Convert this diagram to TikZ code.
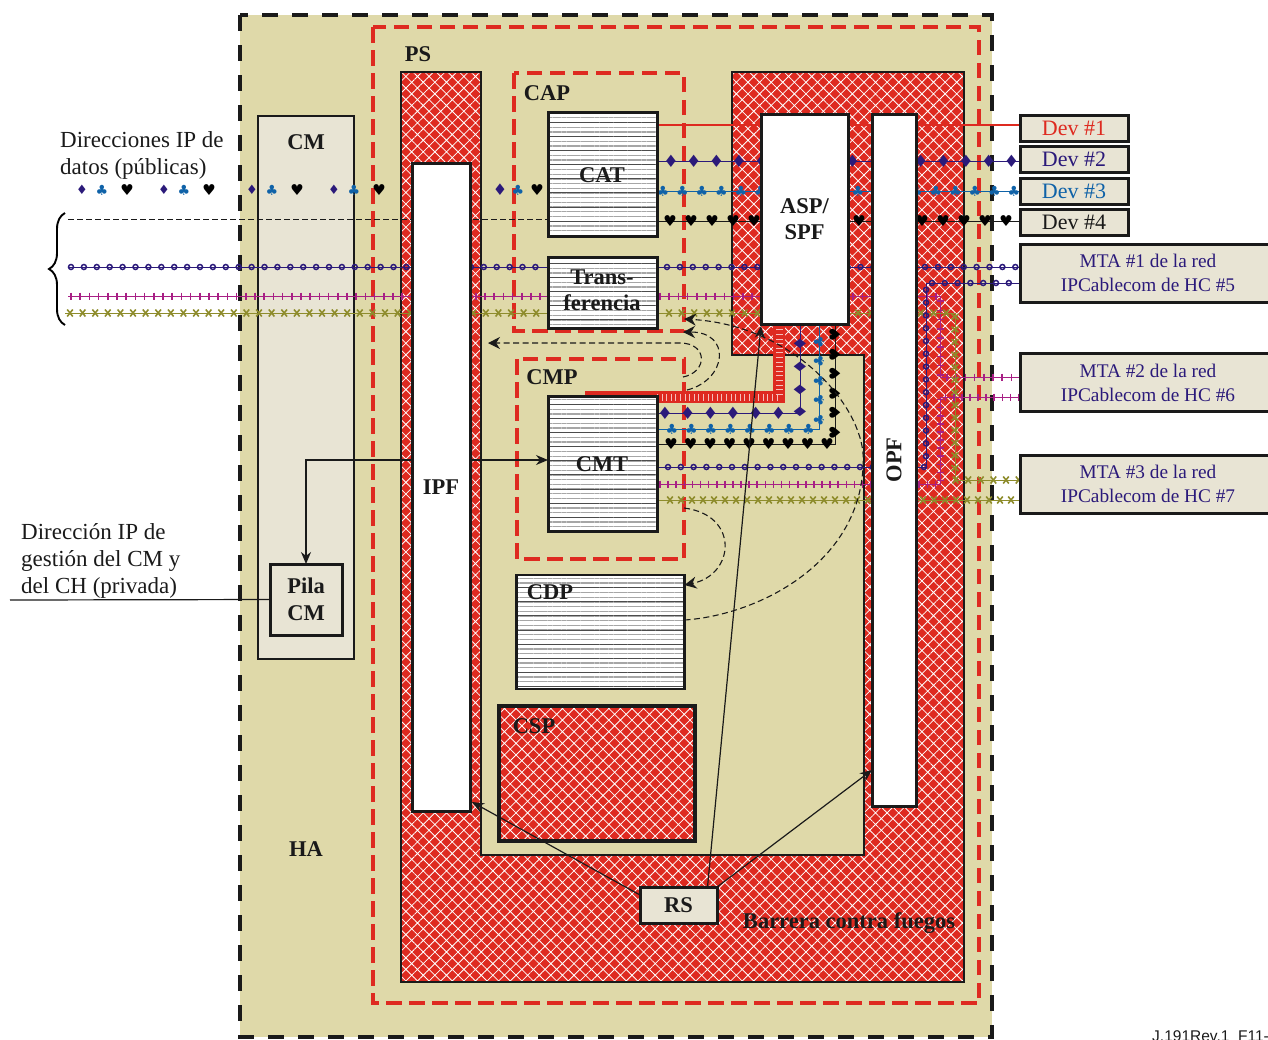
\documentclass[tikz,border=0pt]{standalone}
\usepackage{fontspec}
\setmainfont{Liberation Serif}
\newfontfamily\suitfont{DejaVu Sans}
\newfontfamily\tagfont{Liberation Sans}
\usetikzlibrary{arrows.meta,calc,patterns.meta,decorations.markings,decorations.pathreplacing}
\definecolor{hakhaki}{HTML}{DFD9A9}
\definecolor{hacream}{HTML}{E8E4D4}
\definecolor{hared}{HTML}{DE2A20}
\definecolor{hanavy}{HTML}{2B1A7A}
\definecolor{hablue}{HTML}{0F62A8}
\definecolor{hapink}{HTML}{A81F85}
\definecolor{haolive}{HTML}{8E8C2C}
\definecolor{hadark}{HTML}{1A1A1A}
\tikzset{
  hatchfill/.style  = {preaction={fill=hared}, pattern={Hatch[angle=45,distance=8.2pt,line width=.8pt]}, pattern color=white},
  stripes/.style    = {preaction={fill=white},
                       preaction={pattern={Lines[angle=0,distance=4.7pt,line width=1.3pt]}, pattern color=black!35},
                       pattern={Lines[angle=0,distance=14.1pt,line width=1pt]}, pattern color=black!70},
  lbl/.style        = {font=\fontsize{22.5}{26.5}\selectfont\bfseries, text=hadark, inner sep=0pt, align=center},
  txt/.style        = {font=\fontsize{23}{27}\selectfont, text=hadark, inner sep=0pt, align=left, anchor=west},
  blockbox/.style 2 args = {rectangle, draw=hadark, line width=3pt, minimum width=#1pt, minimum height=#2pt,
                       inner sep=0pt, outer sep=0pt, align=center, font=\fontsize{22.5}{26.5}\selectfont\bfseries, text=hadark},
  devbox/.style     = {blockbox={108}{26}, fill=hacream, font=\fontsize{22}{26}\selectfont},
  mtabox/.style     = {blockbox={256}{58}, fill=hacream, text=hanavy, font=\fontsize{19.3}{24}\selectfont},
  fwdash/.style     = {draw=hared, line width=4pt, dash pattern=on 15.5pt off 7.5pt},
  flow/.style       = {draw=hadark, line width=1.1pt, dash pattern=on 6pt off 3.5pt, -{Stealth[length=12pt,width=12pt]}},
  sig/.style        = {draw=hadark, line width=1.2pt, -{Stealth[length=12pt,width=10pt]}},
  mklink/.style n args = {3}{postaction={decorate,decoration={markings,
                       mark=between positions #1pt and 1 step #2pt with {#3}}}},
  dialink/.style 2 args  = {draw=hanavy, line width=1pt, mklink={#1}{#2}{\node[suit,text=hanavy,transform shape,font=\suitfont\fontsize{17}{17}\selectfont] {♦};}},
  clublink/.style 2 args = {draw=hablue, line width=1pt, mklink={#1}{#2}{\node[suit,text=hablue,transform shape,font=\suitfont\fontsize{14}{14}\selectfont] {♣};}},
  heartlink/.style 2 args= {draw=hadark, line width=1pt, mklink={#1}{#2}{\node[suit,text=black,transform shape,font=\suitfont\fontsize{15}{15}\selectfont] {♥};}},
  circlink/.style 2 args = {draw=hanavy, line width=1pt, mklink={#1}{#2}{\draw[hanavy,line width=1.5pt] (0,0) circle (2.5pt);}},
  ticklink/.style 2 args = {draw=hapink, line width=1pt, mklink={#1}{#2}{\draw[hapink,line width=1.6pt] (0,-3.5) -- (0,3.5);}},
  crosslink/.style 2 args= {draw=haolive, line width=.8pt, mklink={#1}{#2}{\draw[haolive,line width=1.6pt] (-2.8,-3.5) -- (2.8,3.5) (-2.8,3.5) -- (2.8,-3.5);}},
  suit/.style       = {font=\suitfont\fontsize{13}{13}\selectfont, inner sep=0pt},
}
\begin{document}
\begin{tikzpicture}[x=1pt,y=-1pt]
\useasboundingbox (0,0) rectangle (1268,1039);

% host area and security zones
\draw[fill=hakhaki,draw=hadark,line width=4.5pt,dash pattern=on 16pt off 14pt] (240,15) rectangle (992,1037);
\node[blockbox={96}{543},fill=hacream,line width=2.5pt] (cm) at (306,387.5) {};
\draw[fwdash] (373,27) rectangle (979,1003);
\draw[hatchfill,draw=hadark,line width=2.6pt]
  (401,72) -- (481,72) -- (481,855) -- (864,855) -- (864,355) -- (732,355) -- (732,72)
  -- (964,72) -- (964,982) -- (401,982) -- cycle;
\draw[fwdash] (514,73) rectangle (684,331);
\draw[fwdash] (517,359) rectangle (684,559);

% rows and columns of the flows
\coordinate (rowred)   at (0,125);
\coordinate (rowdia)   at (0,161);
\coordinate (rowclub)  at (0,191);
\coordinate (rowdash)  at (0,219);
\coordinate (rowheart) at (0,221);
\coordinate (rowcirc)  at (0,267);
\coordinate (rowplus)  at (0,296);
\coordinate (rowx)     at (0,313);
\coordinate (rowciri)  at (0,283);
\coordinate (rowplua)  at (0,377);
\coordinate (rowplub)  at (0,397);
\coordinate (rowxa)    at (0,480);
\coordinate (rowsig)   at (0,460);
\coordinate (tmtdia)   at (0,413.5);
\coordinate (tmtclub)  at (0,429);
\coordinate (tmtheart) at (0,444);
\coordinate (tmtcirc)  at (0,467);
\coordinate (tmtplus)  at (0,484);
\coordinate (tmtx)     at (0,500);
\coordinate (colred)   at (779,0);
\coordinate (coldia)   at (800,0);
\coordinate (colclub)  at (819,0);
\coordinate (colheart) at (835,0);
\coordinate (colcirc)  at (926,0);
\coordinate (colplus)  at (940,0);
\coordinate (colx)     at (955,0);
\coordinate (leftcirc)  at (68,267);
\coordinate (leftplus)  at (68,296);
\coordinate (leftx)     at (65,313);
\coordinate (leftdash)  at (68,219);
\coordinate (busstart)  at (585,397);
\coordinate (mgmtstart) at (10,600);

% blocks, invisible first so that flows can name them
\path
  node[blockbox={109}{124}]  (cat)   at (602.5,174) {}
  node[blockbox={109}{71}]   (trans) at (602.5,292.5) {}
  node[blockbox={109}{135}]  (cmt)   at (602.5,463.5) {}
  node[blockbox={87}{210}]   (asp)   at (804.5,219) {}
  node[blockbox={44}{692}]   (opf)   at (894,460) {}
  node[blockbox={58}{648}]   (ipf)   at (441,487) {}
  node[blockbox={72}{71}]    (pila)  at (306,599.5) {}
  node[devbox] (dev1) at (1074,128) {}
  node[devbox] (dev2) at (1074,159) {}
  node[devbox] (dev3) at (1074,191.5) {}
  node[devbox] (dev4) at (1074,222.5) {}
  node[mtabox] (mta1) at (1148,273) {}
  node[mtabox] (mta2) at (1148,382.5) {}
  node[mtabox] (mta3) at (1148,484) {};

% public data flows
\draw[draw=hared,line width=1.2pt] (cat.east |- rowred) -- (dev1.west |- rowred);
\draw[dialink={14}{22.7}] (cat.east |- rowdia) -- (dev2.west |- rowdia);
\draw[clublink={6}{19.5}] (cat.east |- rowclub) -- (dev3.west |- rowclub);
\draw[heartlink={13}{21}] (cat.east |- rowheart) -- (dev4.west |- rowheart);
\draw[hadark,line width=1pt,dash pattern=on 6pt off 3pt] (leftdash) -- (cat.west |- rowdash);
\draw[circlink={3}{12.9}] (leftcirc) -- (trans.west |- rowcirc);
\draw[ticklink={3}{9.2}] (leftplus) -- (trans.west |- rowplus);
\draw[crosslink={5}{12.6}] (leftx) -- (trans.west |- rowx);
\draw[circlink={10}{12.9}] (trans.east |- rowcirc) -- (mta1.west |- rowcirc);
\draw[ticklink={3}{9.2}] (trans.east |- rowplus) -- (colplus |- rowplus) -- (colplus |- rowplua) -- (mta2.west |- rowplua);
\draw[crosslink={12}{12.6}] (trans.east |- rowx) -- (colx |- rowx) -- (colx |- rowxa) -- (mta3.west |- rowxa);

% bus and flows out of CMT
\draw[hared,line width=12pt] (busstart) -- (colred |- busstart) -- (colred |- asp.south);
\draw[white!70!hared,line width=7pt,dash pattern=on 1pt off 3.6pt] (cmt.east |- busstart) -- (colred |- busstart) -- (colred |- asp.south);
\draw[dialink={8}{22.7}] (cmt.east |- tmtdia) -- (coldia |- tmtdia) -- (coldia |- asp.south);
\draw[clublink={15}{19.5}] (cmt.east |- tmtclub) -- (colclub |- tmtclub) -- (colclub |- asp.south);
\draw[heartlink={14}{19.5}] (cmt.east |- tmtheart) -- (colheart |- tmtheart) -- (colheart |- asp.south);
\draw[circlink={11}{12.8}] (cmt.east |- tmtcirc) -- (colcirc |- tmtcirc) -- (colcirc |- rowciri) -- (mta1.west |- rowciri);
\draw[ticklink={3}{8.1}] (cmt.east |- tmtplus) -- (colplus |- tmtplus) -- (colplus |- rowplub) -- (mta2.west |- rowplub);
\draw[crosslink={13}{11}] (cmt.east |- tmtx) -- (mta3.west |- tmtx);

% other blocks
\node[blockbox={168}{114},stripes,line width=2.5pt] (cdp) at (600.5,632) {};
\node[blockbox={196}{135},hatchfill,line width=3.5pt] (csp) at (597,773.5) {};
\node[blockbox={77}{36},fill=hacream] (rs) at (678.5,905) {RS};
\node[blockbox={109}{124},stripes] at (cat) {};
\node[blockbox={109}{71},stripes] at (trans) {};
\node[blockbox={109}{135},stripes] at (cmt) {};
\node[blockbox={87}{210},fill=white] at (asp) {ASP/\\SPF};
\node[blockbox={44}{692},fill=white] at (opf) {\rotatebox{90}{OPF}};
\node[blockbox={58}{648},fill=white] at (ipf) {IPF};
\node[blockbox={72}{71},fill=hacream] at (pila) {Pila\\CM};
\node[devbox,text=hared] at (dev1) {Dev \#1};
\node[devbox,text=hanavy] at (dev2) {Dev \#2};
\node[devbox,text=hablue] at (dev3) {Dev \#3};
\node[devbox] at (dev4) {Dev \#4};
\node[mtabox] at (mta1) {MTA \#1 de la red\\IPCablecom de HC \#5};
\node[mtabox] at (mta2) {MTA \#2 de la red\\IPCablecom de HC \#6};
\node[mtabox] at (mta3) {MTA \#3 de la red\\IPCablecom de HC \#7};

% arrows
\draw[sig] (ipf.west |- rowsig) -- (pila.north |- rowsig) -- (pila.north);
\draw[sig] (ipf.east |- rowsig) -- (cmt.west |- rowsig);
\draw[hadark,line width=1.2pt] (mgmtstart) -- (pila.west);
\draw[sig] ($(rs.north west)+(0,8)$) -- ($(ipf.south east)+(2,-9)$);
\draw[sig] ($(rs.north)+(29,0)$) -- ($(asp.south west)+(0,2)$);
\draw[sig] (rs.north east) -- ($(opf.south west)+(0,-36)$);
\draw[flow] (683,377) .. controls (708,372) and (708,343) .. (680,343) -- (488,343);
\draw[flow] (687,390) .. controls (727,380) and (732,332) .. (683,332);
\draw[flow] (cdp.east |- 0,620) .. controls (760,615) and (868,560) .. (863,453)
  .. controls (858,400) and (790,325) .. (684,319);
\draw[flow] (684,508) .. controls (740,515) and (735,575) .. (cdp.north east |- 0,585);

% suits in front of the flows
\foreach \x [count=\i] in {82,164,252,334}
  \node[suit,text=hanavy] (dia\i) at (\x,190) {♦};
\node[suit,text=hanavy,font=\suitfont\fontsize{16}{16}\selectfont] (dia5) at (500,190) {♦};
\foreach \x [count=\i] in {102,184,272,354,518}
  \node[suit,text=hablue,font=\suitfont\fontsize{14}{14}\selectfont] (club\i) at (\x,190) {♣};
\foreach \x [count=\i] in {127,209,297,379,537}
  \node[suit,text=black,font=\suitfont\fontsize{15}{15}\selectfont] (heart\i) at (\x,190) {♥};

% brace
\coordinate (bracelow) at (65,325);
\coordinate (braceup)  at (65,213);
\draw[black,line width=1.9pt,decorate,decoration={brace,amplitude=16pt}] (bracelow) -- (braceup);

% labels
\node[lbl] (cmlbl)  at (306,142) {CM};
\node[lbl] (halbl)  at (306,849) {HA};
\node[lbl] (pslbl)  at (418,54)  {PS};
\node[lbl] (caplbl) at (547,93)  {CAP};
\node[lbl] (cmplbl) at (552,377) {CMP};
\node[lbl] (cdplbl) at (550,592) {CDP};
\node[lbl] (csplbl) at (534,726) {CSP};
\node[lbl] (catlbl) at (602,175) {CAT};
\node[lbl] (tralbl) at (602,290) {Trans-\\ferencia};
\node[lbl] (cmtlbl) at (602,464) {CMT};
\node[lbl] (fwlbl)  at (849,923) {Barrera contra fuegos};
\node[txt] (datalbl) at (60,155) {Direcciones IP de\\datos (públicas)};
\node[txt] (mgmtlbl) at (21,561) {Dirección IP de\\gestión del CM y\\del CH (privada)};
\node[font=\tagfont\fontsize{15.5}{15.5}\selectfont,text=hadark,inner sep=0pt,anchor=base west] (figtag) at (1152,1041) {J.191Rev.1\_F11-};
\end{tikzpicture}
\end{document}
